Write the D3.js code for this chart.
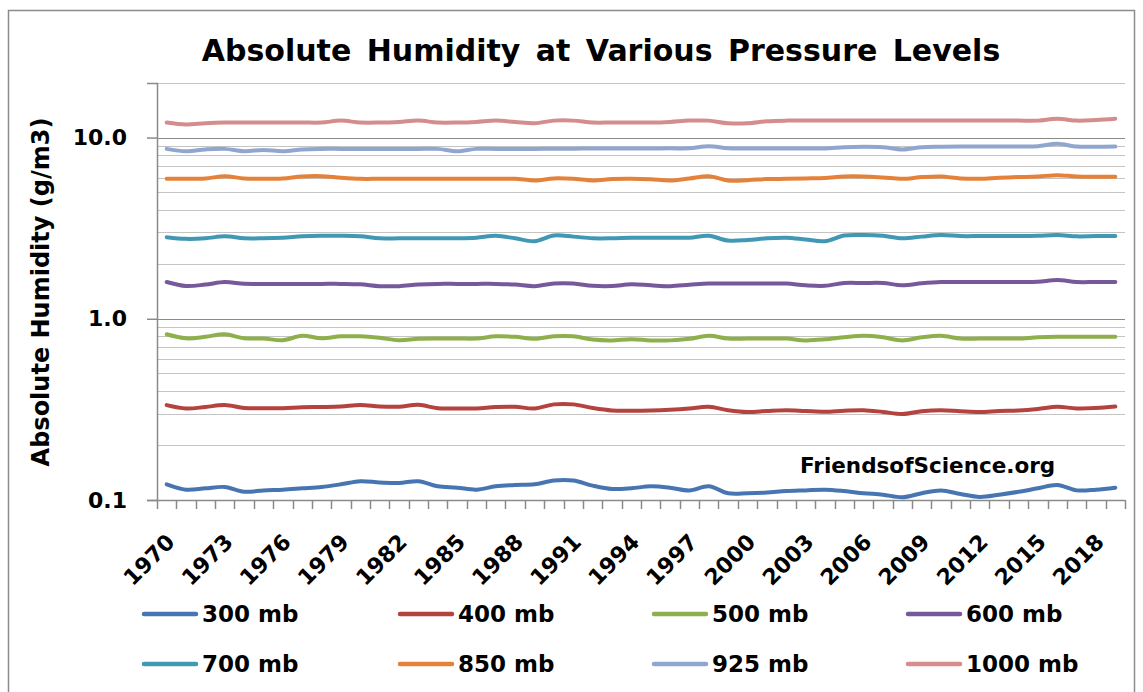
<!DOCTYPE html>
<html>
<head>
<meta charset="utf-8">
<script src="https://cdn.jsdelivr.net/npm/d3@7"></script>
<style>
  html, body { margin: 0; padding: 0; background: #fff; }
  svg text { font-family: "DejaVu Sans", sans-serif; font-weight: bold; fill: #000; }
</style>
</head>
<body>
<svg id="chart" width="1143" height="692"></svg>
<script>
'use strict'

// years on the category axis
var years = d3.range(1970, 2020);
var labelYears = years.filter(function (y) { return (y - 1970) % 3 === 0; });

var seriesNames = ["300 mb", "400 mb", "500 mb", "600 mb", "700 mb", "850 mb", "925 mb", "1000 mb"];
var seriesColors = ["#4675b2", "#b4423f", "#8db04d", "#76599b", "#4098b5", "#e4823a", "#8fa7cf", "#d48d8c"];

var mb300 = [0.122, 0.114, 0.116, 0.118, 0.111, 0.113, 0.114, 0.116, 0.118, 0.122,
             0.127, 0.125, 0.124, 0.127, 0.119, 0.117, 0.114, 0.119, 0.121, 0.122,
             0.128, 0.128, 0.120, 0.115, 0.116, 0.119, 0.117, 0.113, 0.119, 0.109,
             0.109, 0.110, 0.112, 0.113, 0.114, 0.112, 0.109, 0.107, 0.1035, 0.109,
             0.113, 0.108, 0.104, 0.107, 0.111, 0.116, 0.121, 0.113, 0.114, 0.117];
var mb400 = [0.334, 0.320, 0.326, 0.334, 0.322, 0.321, 0.321, 0.325, 0.326, 0.328,
             0.334, 0.328, 0.327, 0.335, 0.321, 0.320, 0.320, 0.326, 0.327, 0.320,
             0.337, 0.337, 0.322, 0.312, 0.311, 0.312, 0.315, 0.320, 0.327, 0.313,
             0.306, 0.310, 0.313, 0.310, 0.307, 0.311, 0.313, 0.306, 0.298, 0.309,
             0.313, 0.309, 0.306, 0.310, 0.312, 0.318, 0.327, 0.320, 0.322, 0.328];
var mb500 = [0.821, 0.780, 0.795, 0.821, 0.780, 0.778, 0.762, 0.805, 0.780, 0.800,
             0.800, 0.785, 0.762, 0.775, 0.778, 0.778, 0.778, 0.800, 0.795, 0.775,
             0.800, 0.800, 0.768, 0.760, 0.772, 0.760, 0.760, 0.775, 0.805, 0.778,
             0.778, 0.778, 0.778, 0.760, 0.770, 0.790, 0.805, 0.790, 0.760, 0.790,
             0.805, 0.778, 0.778, 0.778, 0.778, 0.790, 0.795, 0.795, 0.795, 0.795];
var mb600 = [1.595, 1.516, 1.545, 1.595, 1.560, 1.558, 1.558, 1.558, 1.558, 1.558,
             1.550, 1.514, 1.514, 1.545, 1.558, 1.558, 1.558, 1.558, 1.545, 1.514,
             1.565, 1.565, 1.520, 1.515, 1.550, 1.530, 1.514, 1.540, 1.565, 1.565,
             1.565, 1.565, 1.565, 1.530, 1.520, 1.575, 1.575, 1.575, 1.530, 1.570,
             1.595, 1.595, 1.595, 1.595, 1.595, 1.600, 1.635, 1.595, 1.595, 1.595];
var mb700 = [2.82, 2.76, 2.78, 2.85, 2.78, 2.78, 2.80, 2.85, 2.87, 2.87,
             2.85, 2.78, 2.78, 2.78, 2.78, 2.78, 2.80, 2.87, 2.78, 2.68,
             2.88, 2.84, 2.78, 2.78, 2.80, 2.80, 2.80, 2.80, 2.87, 2.70,
             2.72, 2.78, 2.80, 2.74, 2.68, 2.88, 2.90, 2.87, 2.78, 2.84,
             2.90, 2.86, 2.86, 2.86, 2.86, 2.87, 2.90, 2.85, 2.86, 2.86];
var mb850 = [5.92, 5.92, 5.95, 6.12, 5.95, 5.92, 5.95, 6.10, 6.12, 6.00,
             5.92, 5.92, 5.92, 5.92, 5.92, 5.92, 5.92, 5.92, 5.92, 5.80,
             5.95, 5.92, 5.80, 5.90, 5.92, 5.88, 5.80, 5.95, 6.12, 5.80,
             5.82, 5.90, 5.92, 5.95, 5.98, 6.10, 6.10, 6.02, 5.92, 6.05,
             6.10, 5.95, 5.92, 6.00, 6.05, 6.10, 6.20, 6.10, 6.08, 6.08];
var mb925 = [8.66, 8.40, 8.60, 8.66, 8.40, 8.55, 8.40, 8.60, 8.66, 8.66,
             8.66, 8.66, 8.66, 8.66, 8.66, 8.40, 8.66, 8.66, 8.66, 8.66,
             8.68, 8.68, 8.70, 8.70, 8.70, 8.70, 8.72, 8.72, 8.95, 8.72,
             8.70, 8.70, 8.70, 8.70, 8.70, 8.85, 8.90, 8.85, 8.60, 8.85,
             8.90, 8.92, 8.92, 8.92, 8.92, 8.95, 9.25, 8.92, 8.90, 8.92];
var mb1000 = [12.1, 11.8, 12.0, 12.1, 12.1, 12.1, 12.1, 12.1, 12.1, 12.4,
              12.1, 12.1, 12.2, 12.4, 12.1, 12.1, 12.2, 12.4, 12.2, 12.0,
              12.4, 12.4, 12.1, 12.1, 12.1, 12.1, 12.2, 12.4, 12.4, 12.0,
              12.0, 12.3, 12.4, 12.4, 12.4, 12.4, 12.4, 12.4, 12.4, 12.4,
              12.4, 12.4, 12.4, 12.4, 12.4, 12.4, 12.7, 12.4, 12.5, 12.7];

var seriesValues = [mb300, mb400, mb500, mb600, mb700, mb850, mb925, mb1000];

var yMajor = [0.1, 1, 10];
var yMin = 0.1, yMax = 20;

var svg = d3.select("#chart");

// outer frame
svg.append("rect")
    .attr("x", 8.5).attr("y", 10.5)
    .attr("width", 1126).attr("height", 700)
    .attr("fill", "#fff")
    .attr("stroke", "#8c8c8c")
    .attr("stroke-width", 1.5);

var plot = { left: 157, right: 1125, top: 83, bottom: 500 };

var x = d3.scaleBand()
    .domain(years)
    .range([plot.left, plot.right]);

var y = d3.scaleLog()
    .domain([yMin, yMax])
    .range([plot.bottom, plot.top]);

// minor gridlines (2..9 of each decade)
var minor = [];
yMajor.forEach(function (d) {
    d3.range(2, 10).forEach(function (k) {
        var v = +(d * k).toPrecision(3);
        if (v <= yMax) minor.push(v);
    });
});

svg.append("g")
    .selectAll("line")
    .data(minor)
    .enter().append("line")
    .attr("x1", plot.left).attr("x2", plot.right)
    .attr("y1", function (d) { return Math.round(y(d)) + 0.5; })
    .attr("y2", function (d) { return Math.round(y(d)) + 0.5; })
    .attr("stroke", "#c4c4c4")
    .attr("stroke-width", 1.2);

svg.append("g")
    .selectAll("line")
    .data(yMajor.slice(1))
    .enter().append("line")
    .attr("x1", plot.left).attr("x2", plot.right)
    .attr("y1", function (d) { return Math.round(y(d)) + 0.5; })
    .attr("y2", function (d) { return Math.round(y(d)) + 0.5; })
    .attr("stroke", "#8a8a8a")
    .attr("stroke-width", 1.2);

// y axis
var yAxis = svg.append("g")
    .attr("transform", "translate(" + plot.left + ",0)")
    .call(d3.axisLeft(y)
        .tickValues(yMajor)
        .tickFormat(d3.format(".1f"))
        .tickSize(10)
        .tickPadding(20));
yAxis.select(".domain").attr("stroke", "#8a8a8a").attr("stroke-width", 1.5);
yAxis.selectAll(".tick line").attr("stroke", "#8a8a8a").attr("stroke-width", 1.5);
yAxis.selectAll(".tick text")
    .attr("font-size", 22)
    .style("font-family", "'DejaVu Sans', sans-serif")
    .style("font-weight", "bold")
    .attr("fill", "#000");

// x axis: baseline + ticks at category boundaries
var step = x.step();
svg.append("line")
    .attr("x1", plot.left).attr("x2", plot.right)
    .attr("y1", plot.bottom + 0.5).attr("y2", plot.bottom + 0.5)
    .attr("stroke", "#8a8a8a").attr("stroke-width", 1.5);

svg.append("g")
    .selectAll("line")
    .data(d3.range(years.length + 1))
    .enter().append("line")
    .attr("x1", function (i) { return Math.round(plot.left + i * step) + 0.5; })
    .attr("x2", function (i) { return Math.round(plot.left + i * step) + 0.5; })
    .attr("y1", plot.bottom).attr("y2", plot.bottom + 9)
    .attr("stroke", "#8a8a8a").attr("stroke-width", 1.5);

var xAxis = svg.append("g")
    .attr("transform", "translate(0," + plot.bottom + ")")
    .call(d3.axisBottom(x).tickValues(labelYears).tickSize(0));
xAxis.select(".domain").remove();
xAxis.selectAll(".tick text")
    .attr("font-size", 22)
    .style("font-family", "'DejaVu Sans', sans-serif")
    .style("font-weight", "bold")
    .attr("fill", "#000")
    .attr("text-anchor", "end")
    .attr("x", 0).attr("y", 0).attr("dy", "0.35em")
    .attr("transform", "translate(4,38) rotate(-45)");

// series lines
var line = d3.line()
    .x(function (d, i) { return x(years[i]) + x.bandwidth() / 2; })
    .y(function (d) { return y(d); })
    .curve(d3.curveCatmullRom);

svg.append("g")
    .selectAll("path")
    .data(seriesValues)
    .enter().append("path")
    .attr("d", line)
    .attr("fill", "none")
    .attr("stroke", function (d, i) { return seriesColors[i]; })
    .attr("stroke-width", 4)
    .attr("stroke-linejoin", "round")
    .attr("stroke-linecap", "round");

// title
svg.append("text")
    .attr("x", 601).attr("y", 61)
    .attr("text-anchor", "middle")
    .attr("font-size", 30)
    .attr("word-spacing", 5)
    .text("Absolute Humidity at Various Pressure Levels");

// y axis title
svg.append("text")
    .attr("transform", "translate(49,292) rotate(-90)")
    .attr("text-anchor", "middle")
    .attr("font-size", 24)
    .text("Absolute Humidity (g/m3)");

// watermark
svg.append("text")
    .attr("x", 800).attr("y", 473)
    .attr("font-size", 21.5)
    .attr("fill", "#111")
    .text("FriendsofScience.org");

// legend
var legendCols = [142, 398, 652, 906];
var legendRows = [614, 664];

var legend = svg.append("g")
    .selectAll("g")
    .data(seriesNames)
    .enter().append("g")
    .attr("transform", function (d, i) {
        return "translate(" + legendCols[i % 4] + "," + legendRows[Math.floor(i / 4)] + ")";
    });

legend.append("line")
    .attr("x1", 2).attr("x2", 54)
    .attr("y1", 0).attr("y2", 0)
    .attr("stroke", function (d, i) { return seriesColors[i]; })
    .attr("stroke-width", 4.5)
    .attr("stroke-linecap", "round");

legend.append("text")
    .attr("x", 60).attr("y", 0)
    .attr("dy", "0.35em")
    .attr("font-size", 23)
    .text(function (d) { return d; });
</script>
</body>
</html>
